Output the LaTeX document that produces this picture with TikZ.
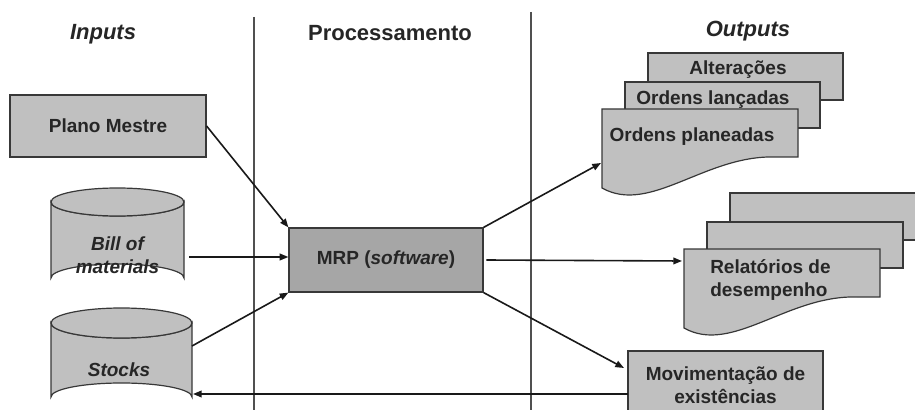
\documentclass[tikz,border=0pt]{standalone}
\usepackage{fontspec}
\setmainfont{Liberation Sans}
\usetikzlibrary{arrows.meta}

\definecolor{boxfill}{HTML}{C0C0C0}
\definecolor{mrpfill}{HTML}{A6A6A6}
\definecolor{edge}{HTML}{383838}
\definecolor{ink}{HTML}{262626}
\definecolor{rule}{HTML}{505050}

\begin{document}
\begin{tikzpicture}[x=0.75pt,y=-0.75pt,
  lbl/.style={font=\fontsize{14.25}{17.25}\selectfont\bfseries, text=ink, align=center, inner sep=0pt},
  ttl/.style={font=\fontsize{16.5}{19}\selectfont\bfseries, text=ink, inner sep=0pt},
  sheet/.style={fill=boxfill, draw=edge, line width=0.9pt},
  block/.style={sheet, lbl, inner sep=0pt},
  link/.style={draw=black!90, line width=1.2pt, -{Triangle[length=6.5pt,width=5pt]}},
  divider/.style={draw=rule, line width=0.9pt},
  docpage/.pic={
    \path[sheet] (0,0) -- (196,0) -- (196,48) -- (173,48)
      .. controls (103,46) and (48,106) .. (0,79) -- cycle;
  }]

\useasboundingbox (0,0) rectangle (915,410);
\clip (0,0) rectangle (915,410);

% column dividers
\draw[divider] (254,17) -- (254,412);
\draw[divider] (531,12) -- (531,412);

% column titles
\node[ttl] (tin)   at (103,34) {\itshape Inputs};
\node[ttl] (tproc) at (390,33) {Processamento};
\node[ttl] (tout)  at (748,31) {\itshape Outputs};

% inputs
\node[block, minimum width=147pt, minimum height=46.5pt] (plano) at (108,126) {Plano Mestre};

% bill of materials cylinder
\path[sheet] (51,202) -- (51,278) arc[start angle=180, end angle=360, x radius=66.5, y radius=14]
  -- (184,202) arc[start angle=0, end angle=180, x radius=66.5, y radius=14] -- cycle;
\draw[sheet] (117.5,202) ellipse[x radius=66.5, y radius=14];
\node[lbl] (bom) at (117.5,255) {\itshape Bill of\\\itshape materials};
\coordinate (bomE) at (189,257);

% stocks cylinder
\path[sheet] (51,323) -- (51,397) arc[start angle=180, end angle=360, x radius=70.5, y radius=14]
  -- (192,323) arc[start angle=0, end angle=180, x radius=70.5, y radius=15] -- cycle;
\draw[sheet] (121.5,323) ellipse[x radius=70.5, y radius=15];
\node[lbl] (stocks) at (119,370) {\itshape Stocks};
\coordinate (stocksE) at (192,346);
\coordinate (stocksIn) at (193,394);

% processing
\node[block, fill=mrpfill, minimum width=145.5pt, minimum height=48pt] (mrp) at (386,260)
  {MRP (\textit{software})};

% outputs: order documents
\draw[sheet] (648,53) rectangle (843,100);
\node[lbl] (alt) at (738,70) {Alterações};
\draw[sheet] (625,82) rectangle (820,128);
\node[lbl] (olanc) at (713,100) {Ordens lançadas};
\path (602,109) pic {docpage};
\node[lbl] (oplan) at (692,137) {Ordens planeadas};
\coordinate (oplanIn) at (601,163);

% outputs: performance reports
\draw[sheet] (730,193) rectangle (930,240);
\draw[sheet] (707,222) rectangle (903,268);
\path (684,249) pic {docpage};
\node[lbl, align=left, anchor=north west] (rel) at (710,259) {Relatórios de\\desempenho};
\coordinate (relIn) at (682,261);

% outputs: stock movements
\node[block, minimum width=146.25pt, minimum height=51.75pt] (mov) at (725.5,385.5)
  {Movimentação de\\existências};
\coordinate (movIn) at (624,368);
\coordinate (movOut) at (628,394);

% connectors
\draw[link] (plano.east) -- (mrp.north west);
\draw[link] (bomE) -- (bomE -| mrp.west);
\draw[link] (stocksE) -- (mrp.south west);
\draw[link] (mrp.north east) -- (oplanIn);
\draw[link] ([xshift=2pt]mrp.east) -- (relIn);
\draw[link] (mrp.south east) -- (movIn);
\draw[link] (movOut) -- (stocksIn);

\end{tikzpicture}
\end{document}
